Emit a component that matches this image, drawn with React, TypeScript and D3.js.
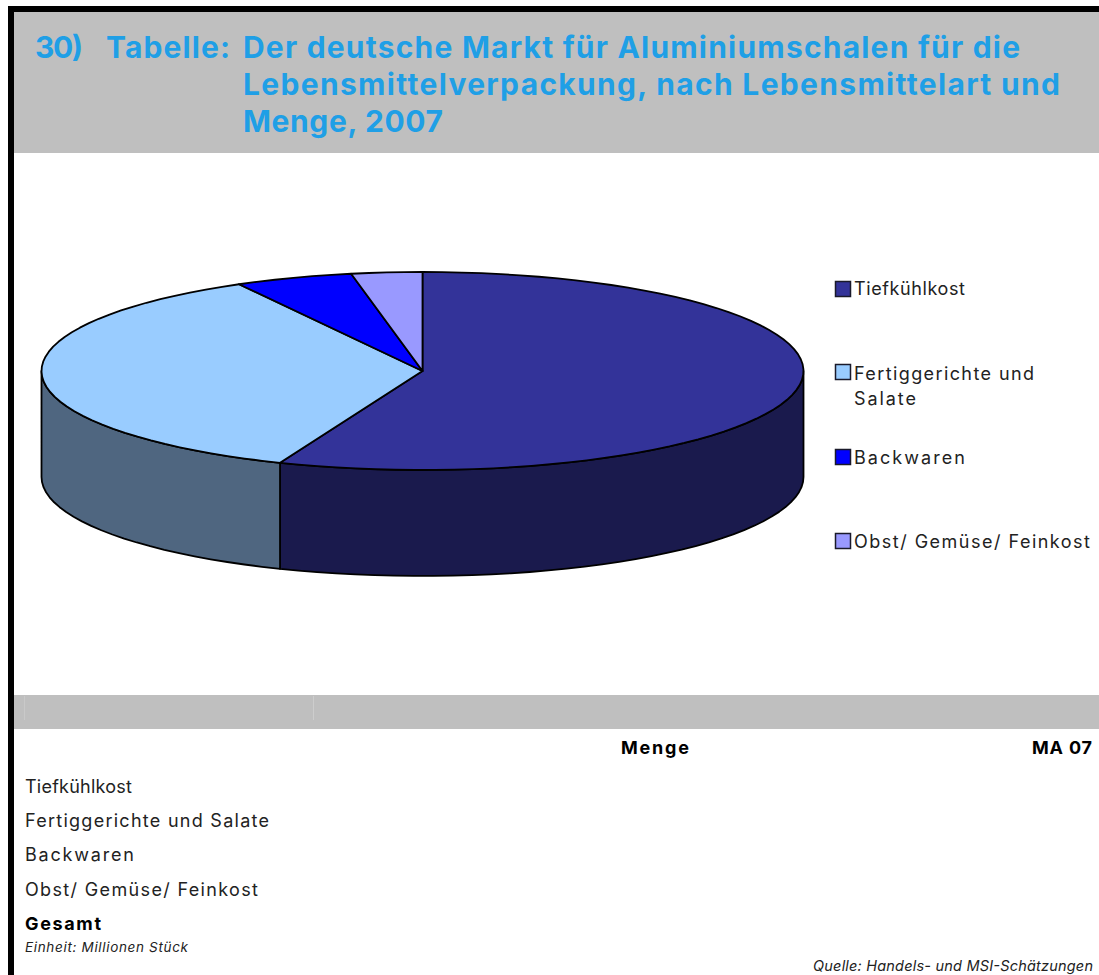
import React from "react";
import * as d3 from "d3";

const categories = ["Tiefkühlkost", "Fertiggerichte und Salate", "Backwaren", "Obst/ Gemüse/ Feinkost"];
const shares = [56.1, 35.9, 5.0, 3.0];
const topColors = ["#333399", "#99ccff", "#0000ff", "#9999ff"];
const sideColors = ["#1a1a4d", "#4f6680", "#00007f", "#4d4d80"];

const titleSegments = [
  { text: "30)", x: 35, y: 58, w: 48 },
  { text: "Tabelle:", x: 106, y: 58, w: 124 },
  { text: "Der deutsche Markt für Aluminiumschalen für die", x: 243, y: 58, w: 777 },
  { text: "Lebensmittelverpackung, nach Lebensmittelart und", x: 243, y: 95, w: 817 },
  { text: "Menge, 2007", x: 243, y: 132, w: 200 },
];
const legendRows = [
  { swatch: 0, boxY: 281, lines: [{ t: "Tiefkühlkost", y: 295, w: 111 }] },
  { swatch: 1, boxY: 364, lines: [{ t: "Fertiggerichte und", y: 380, w: 180 }, { t: "Salate", y: 405, w: 62 }] },
  { swatch: 2, boxY: 449, lines: [{ t: "Backwaren", y: 464, w: 111 }] },
  { swatch: 3, boxY: 533, lines: [{ t: "Obst/ Gemüse/ Feinkost", y: 548, w: 236 }] },
];
const tableRows = [
  { t: categories[0], y: 793, w: 107 },
  { t: categories[1], y: 827, w: 244 },
  { t: categories[2], y: 861, w: 109 },
  { t: categories[3], y: 896, w: 233 },
];

const FONT = "Inter, 'DejaVu Sans', sans-serif";
const cx = 422.5, cy = 371, rx = 381, ry = 99, depth = 106;

const px = d3.scaleLinear().domain([-1, 1]).range([cx - rx, cx + rx]);
const py = d3.scaleLinear().domain([-1, 1]).range([cy - ry, cy + ry]);
const line = d3.line<[number, number]>();

function rimPoints(a0: number, a1: number, dy = 0): [number, number][] {
  const n = Math.max(2, Math.ceil((a1 - a0) / (Math.PI / 60)));
  return d3.range(n + 1).map((i) => {
    const a = a0 + ((a1 - a0) * i) / n;
    return [px(Math.sin(a)), py(-Math.cos(a)) + dy] as [number, number];
  });
}

export default function App() {
  const arcs = d3.pie<number>().sort(null)(shares);
  return (
    <svg width={1099} height={975} style={{ position: "absolute", left: 0, top: 0, background: "#fff" }} fontFamily={FONT}>
      <rect x={8} y={6} width={1091} height={6} fill="#000" />
      <rect x={8} y={6} width={6} height={969} fill="#000" />
      <rect x={14} y={12} width={1085} height={141} fill="#bfbfbf" />
      <rect x={14} y={695} width={1085} height={34} fill="#bfbfbf" />
      <line x1={24.5} x2={24.5} y1={696} y2={720} stroke="#c9c9c9" />
      <line x1={313.5} x2={313.5} y1={696} y2={720} stroke="#cdcdcd" />

      {titleSegments.map((s) => (
        <text key={s.text} x={s.x} y={s.y} fontSize={30} fontWeight={700} fill="#1f9fe6" textLength={s.w} lengthAdjust="spacing">{s.text}</text>
      ))}

      {arcs.map((d, i) => {
        const a0 = Math.max(d.startAngle, Math.PI / 2);
        const a1 = Math.min(d.endAngle, (3 * Math.PI) / 2);
        if (a1 <= a0) return null;
        const pts = [...rimPoints(a0, a1), ...rimPoints(a0, a1, depth).reverse()];
        return <path key={i} d={line(pts) + "Z"} fill={sideColors[i]} stroke="#000" strokeWidth={1.8} strokeLinejoin="round" />;
      })}
      {arcs.map((d, i) => {
        const pts: [number, number][] = [[px(0), py(0)], ...rimPoints(d.startAngle, d.endAngle)];
        return <path key={i} d={line(pts) + "Z"} fill={topColors[i]} stroke="#000" strokeWidth={1.8} strokeLinejoin="round" />;
      })}

      {legendRows.map((r) => (
        <g key={r.swatch}>
          <rect x={835.5} y={r.boxY + 0.5} width={15} height={15} fill={topColors[r.swatch]} stroke="#1a1a2a" strokeWidth={1.5} />
          {r.lines.map((l) => (
            <text key={l.t} x={854} y={l.y} fontSize={18} fill="#222" textLength={l.w} lengthAdjust="spacing">{l.t}</text>
          ))}
        </g>
      ))}

      <text x={621} y={754} fontSize={18} fontWeight={700} fill="#000" textLength={68} lengthAdjust="spacing">Menge</text>
      <text x={1032} y={754} fontSize={18} fontWeight={700} fill="#000" textLength={60} lengthAdjust="spacing">MA 07</text>
      {tableRows.map((r) => (
        <text key={r.t} x={25} y={r.y} fontSize={18} fill="#222" textLength={r.w} lengthAdjust="spacing">{r.t}</text>
      ))}
      <text x={25} y={930} fontSize={18} fontWeight={700} fill="#000" textLength={76} lengthAdjust="spacing">Gesamt</text>
      <text x={25} y={952} fontSize={13.5} fontStyle="italic" fill="#222" textLength={163} lengthAdjust="spacing">Einheit: Millionen Stück</text>
      <text x={813} y={971} fontSize={14.5} fontStyle="italic" fill="#222" textLength={280} lengthAdjust="spacing">Quelle: Handels- und MSI-Schätzungen</text>
    </svg>
  );
}
